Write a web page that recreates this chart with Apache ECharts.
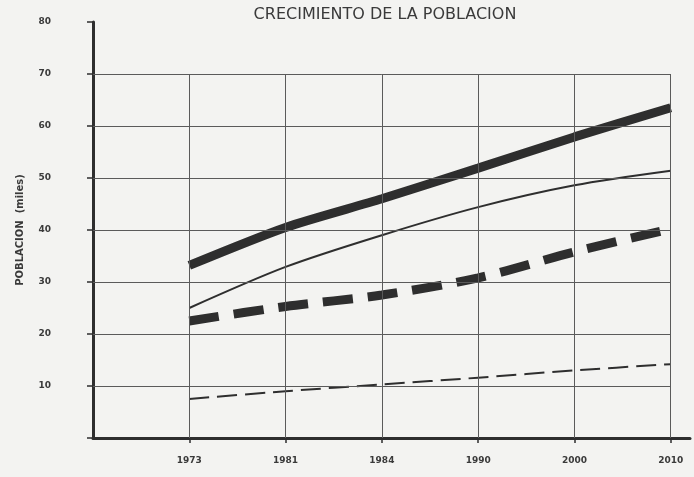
<!DOCTYPE html>
<html>
<head>
<meta charset="utf-8">
<script src="https://cdn.jsdelivr.net/npm/echarts@6/dist/echarts.min.js"></script>
<style>
  html, body { margin: 0; padding: 0; background: #f3f3f1; }
  #chart { width: 694px; height: 477px; }
</style>
</head>
<body>
<div id="chart"></div>
<script>
// data (thousands)
var years = ['1973', '1981', '1984', '1990', '2000', '2010'];
var thickSolid = [33.2, 40.5, 46, 51.9, 57.9, 63.5];
var thinSolid = [25, 32.9, 39, 44.4, 48.6, 51.4];
var thickDashed = [22.5, 25.3, 27.5, 30.8, 35.8, 40.2];
var thinDashed = [7.5, 9, 10.3, 11.6, 13, 14.2];
var gridValues = [10, 20, 30, 40, 50, 60, 70];

var ink = '#2e2e2e';
var gridInk = '#5a5a5a';

function pts(arr){
	var out = [];
	for(var i = 0;i<arr.length;i++){
		out.push([i + 1, arr[i]]);
	}
	return out;
}

// grid lines only go up to 70, so they are drawn as mark lines
function gridLines(){
	var lines = [];
	for(var i = 0;i<gridValues.length;i++){
		lines.push([{coord:[0, gridValues[i]]}, {coord:[years.length, gridValues[i]]}]);
	}
	for(var j = 1;j<=years.length;j++){
		lines.push([{coord:[j, 0]}, {coord:[j, 70]}]);
	}
	return lines;
}

var chart = echarts.init(document.getElementById('chart'));
var option = {
	backgroundColor:'#f3f3f1',
	animation:false,
	title:{
		text:'CRECIMIENTO DE LA POBLACION',
		left:380,
		textAlign:'center',
		top:2,
		textStyle:{
			color:'#3a3a3a',
			fontFamily:'DejaVu Sans',
			fontWeight:'normal',
			fontSize:16
		}
	},
	grid:{
		left:93,
		right:4,
		top:22,
		bottom:39
	},
	xAxis:{
		type:'value',
		min:0,
		max:6.2,
		interval:1,
		splitLine:{show:false},
		axisLine:{lineStyle:{color:ink, width:3}},
		axisTick:{
			customValues:[1, 2, 3, 4, 5, 6],
			length:5,
			lineStyle:{color:ink, width:1.5}
		},
		axisLabel:{
			customValues:[1, 2, 3, 4, 5, 6],
			margin:18,
			color:'#3a3a3a',
			fontSize:9,
			fontWeight:'bold',
			fontFamily:'DejaVu Sans',
			formatter:function(v){
				return years[v - 1] || '';
			}
		}
	},
	yAxis:{
		type:'value',
		min:0,
		max:80,
		interval:10,
		name:'POBLACION  (miles)',
		nameLocation:'middle',
		nameGap:68,
		nameRotate:90,
		nameTextStyle:{
			color:'#3a3a3a',
			fontSize:10,
			fontWeight:'bold',
			fontFamily:'DejaVu Sans'
		},
		splitLine:{show:false},
		axisLine:{show:true, lineStyle:{color:ink, width:3}},
		axisTick:{
			length:6,
			lineStyle:{color:ink, width:1.5}
		},
		axisLabel:{
			margin:42,
			color:'#3a3a3a',
			fontSize:9,
			fontWeight:'bold',
			fontFamily:'DejaVu Sans',
			formatter:function(v){
				return v === 0 ? '' : v;
			}
		}
	},
	series:[
		{
			name:'grid',
			type:'line',
			data:[],
			silent:true,
			markLine:{
				silent:true,
				symbol:'none',
				label:{show:false},
				lineStyle:{color:gridInk, width:1, type:'solid'},
				data:gridLines()
			}
		},
		{
			type:'line',
			data:pts(thickSolid),
			smooth:0.25,
			showSymbol:false,
			lineStyle:{color:ink, width:9}
		},
		{
			type:'line',
			data:pts(thinSolid),
			smooth:0.3,
			showSymbol:false,
			lineStyle:{color:ink, width:2}
		},
		{
			type:'line',
			data:pts(thickDashed),
			smooth:0.3,
			showSymbol:false,
			lineStyle:{color:ink, width:9, type:[30, 15], cap:'butt'}
		},
		{
			type:'line',
			data:pts(thinDashed),
			smooth:0.3,
			showSymbol:false,
			lineStyle:{color:ink, width:2, type:[20, 8], cap:'butt'}
		}
	]
};
chart.setOption(option);
</script>
</body>
</html>
